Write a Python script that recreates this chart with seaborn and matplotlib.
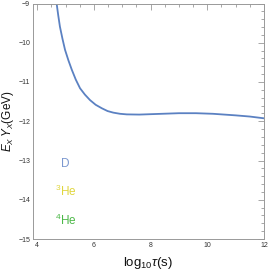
import numpy as np
import pandas as pd
import matplotlib
matplotlib.use("Agg")
import matplotlib.pyplot as plt
import seaborn as sns
from matplotlib.ticker import MultipleLocator

# data
log_tau = [4.68, 4.74, 4.80, 4.89, 4.98, 5.10, 5.22, 5.36, 5.51, 5.68, 5.86, 6.06, 6.28, 6.48, 6.68, 6.92, 7.16, 7.6, 8.2, 9.0, 9.6, 10.2, 11.0, 11.5, 12.0]
exyx = [-8.98, -9.30, -9.59, -9.90, -10.18, -10.45, -10.69, -10.94, -11.16, -11.32, -11.46, -11.58, -11.67, -11.74, -11.78, -11.81, -11.825, -11.83, -11.815, -11.795, -11.795, -11.81, -11.85, -11.88, -11.925]
labels = ["D", "$^3$He", "$^4$He"]
label_x = [4.98, 5.0, 5.0]
label_y = [-13.09, -13.80, -14.52]
label_colors = ["#7b98cf", "#e0d63e", "#4cb848"]
xticks = [4, 6, 8, 10, 12]
yticks = [-15, -14, -13, -12, -11, -10, -9]

sns.set_theme(style="white")
plt.rcParams['font.family'] = ['Liberation Sans', 'DejaVu Sans']
plt.rcParams['mathtext.fontset'] = 'custom'
plt.rcParams['mathtext.rm'] = 'Liberation Sans'
plt.rcParams['mathtext.it'] = 'Liberation Sans:italic'

df = pd.DataFrame({"x": log_tau, "y": exyx})
fig = plt.figure(figsize=(2.70, 2.71), dpi=100)
ax = fig.add_axes([33/270, 32/271, 231/270, 235.5/271])

sns.lineplot(data=df, x="x", y="y", ax=ax, color="#5b81c2", lw=1.3)

for t, x, y, c in zip(labels, label_x, label_y, label_colors):
    ax.text(x, y, t, color=c, fontsize=8.5, ha="center", va="center")

ax.set_xlim(3.85, 12)
ax.set_ylim(-15, -9)
ax.set_xticks(xticks)
ax.set_yticks(yticks)
ax.xaxis.set_minor_locator(MultipleLocator(0.5))
ax.yaxis.set_minor_locator(MultipleLocator(0.2))
ax.tick_params(which="both", direction="in", top=True, right=True,
               labeltop=False, labelright=False, colors="#999999",
               labelcolor="#333333", labelsize=5, width=0.6, pad=2)
ax.tick_params(which="major", length=4)
ax.tick_params(which="minor", length=2)
for s in ax.spines.values():
    s.set_color("#999999")
    s.set_linewidth(0.7)
ax.set_xlabel(r"log$_{10}\tau$(s)", fontsize=9.5, color="#111111")
ax.set_ylabel(r"$E_X\,Y_X$(GeV)", fontsize=8.5, color="#111111")
ax.xaxis.set_label_coords(0.5, -0.07)
ax.yaxis.set_label_coords(-0.075, 0.5)
fig.savefig("out.png", dpi=100)
